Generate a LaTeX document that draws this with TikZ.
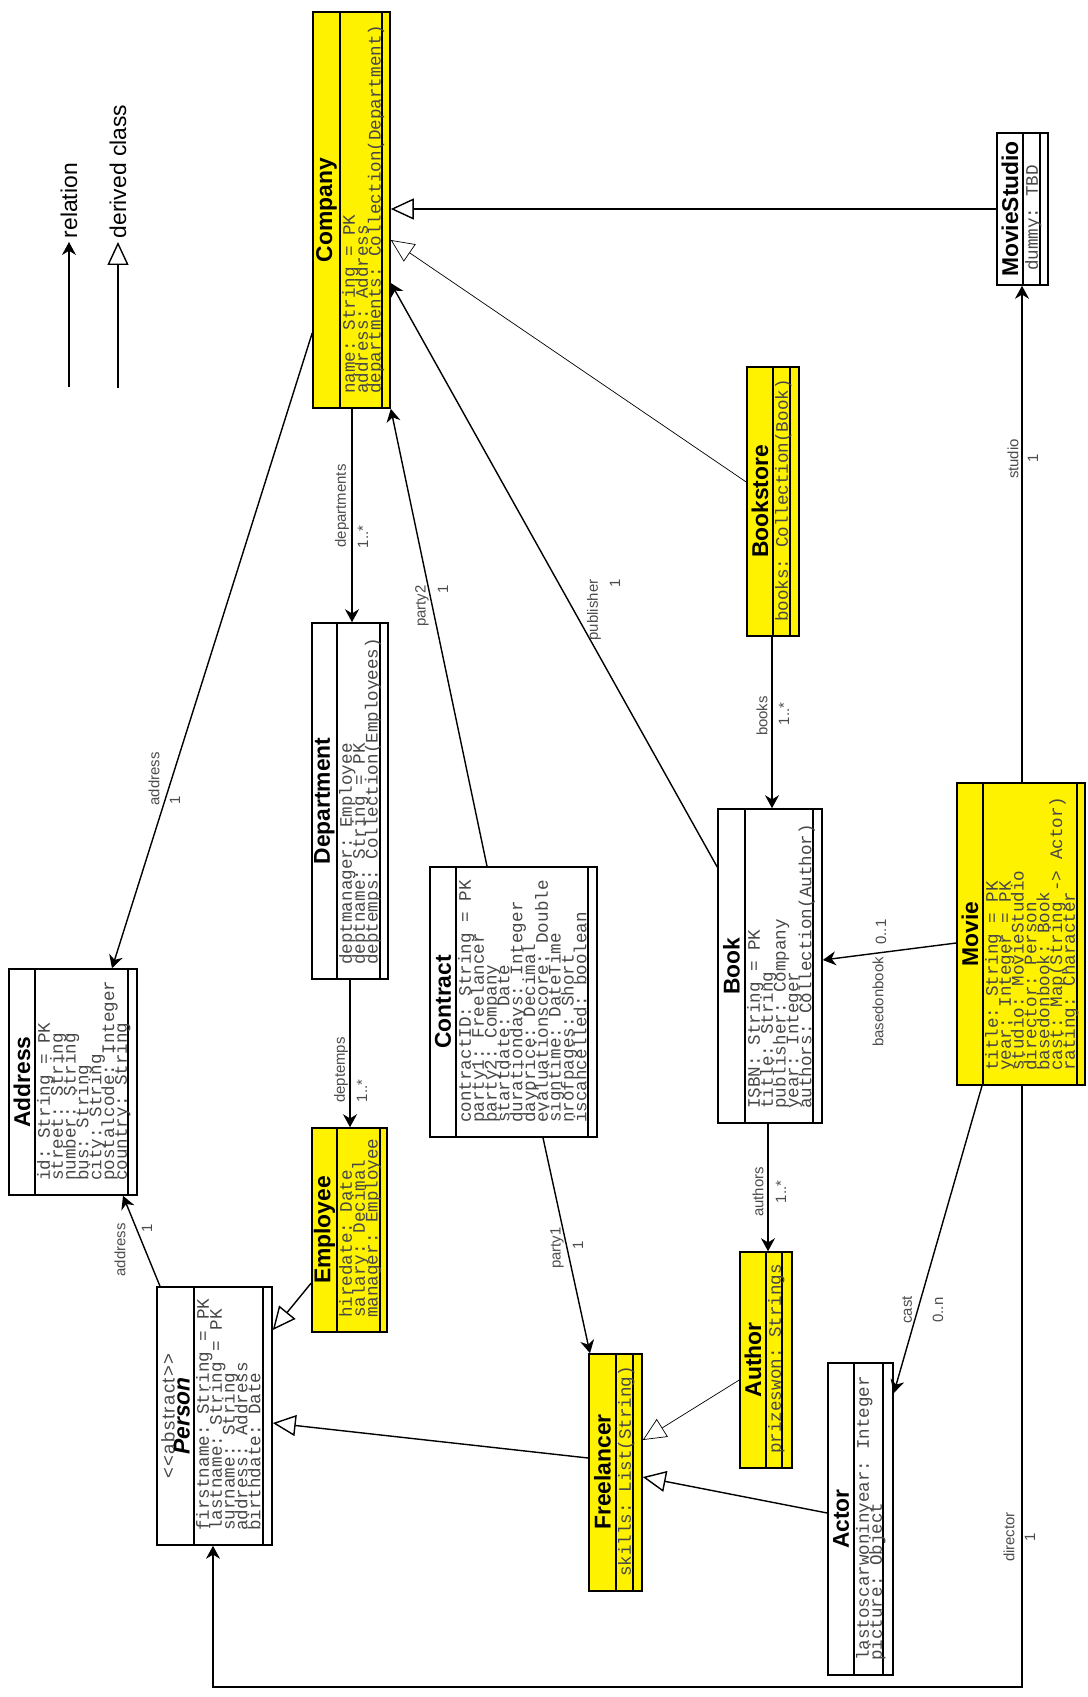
\documentclass[tikz,border=0pt]{standalone}
\usepackage{fontspec}
\setmainfont{Liberation Sans}
\setsansfont{Liberation Sans}
\setmonofont{Liberation Mono}
\usetikzlibrary{arrows.meta, fit}

\begin{document}
\begin{tikzpicture}[
    x=0.02cm, y=-0.02cm,
    cls/.style={draw, line width=0.9pt, inner sep=0pt},
    hot/.style={cls, fill=yellow},
    part/.style={line width=0.9pt},
    cname/.style={rotate=90, inner sep=0pt, font=\sffamily\bfseries\fontsize{13}{15}\selectfont},
    cattr/.style={rotate=90, anchor=north west, align=left, inner sep=0.5pt, text=black!72,
        font={\ttfamily\fontsize{10}{7.3}\selectfont\lineskiplimit=-20pt}},
    lbl/.style={rotate=90, inner sep=0pt, text=black!70, font=\sffamily\fontsize{8.5}{10}\selectfont},
    legend/.style={rotate=90, anchor=west, inner sep=2pt, font=\sffamily\fontsize{13}{15}\selectfont},
    rel/.style={-{Stealth[length=2.6mm, width=2.8mm]}, line width=0.8pt},
    gen/.style={-{Triangle[open, fill=white, length=4.6mm, width=4.2mm]}, line width=0.8pt}
]
\useasboundingbox (0,0) rectangle (1088,1697);

% legend
\node[legend] (relkey) at (69,242) {relation};
\coordinate (relkeyfoot) at (69,387);
\draw[rel] (relkeyfoot) -- (relkey);
\node[legend] (genkey) at (118,242) {derived class};
\coordinate (genkeyfoot) at (118,388);
\draw[gen] (genkeyfoot) -- (genkey);

% classes
\node[hot, fit={(313,12) (390,408)}] (company) {};
\draw[part] (340,12) -- (340,408) (382,12) -- (382,408);
\node[cname] (companyname) at (326.5,210) {Company};
\node[cattr] (companyattr) at (341,395) {name: String = PK\\address: Address\\departments: Collection(Department)};

\node[cls, fit={(312,623) (388,979)}] (department) {};
\draw[part] (337,623) -- (337,979) (380,623) -- (380,979);
\node[cname] (departmentname) at (324.5,801) {Department};
\node[cattr] (departmentattr) at (338,966) {deptmanager: Employee\\deptname: String = PK\\deptemps: Collection(Employees)};

\node[cls, fit={(9,969) (137,1195)}] (address) {};
\draw[part] (35,969) -- (35,1195) (128,969) -- (128,1195);
\node[cname] (addressname) at (22,1082) {Address};
\node[cattr] (addressattr) at (36,1182) {id: String = PK\\street: String\\number: String\\bus: String\\city: String\\postalcode: Integer\\country: String};

\node[cls, fit={(157,1287) (272,1545)}] (person) {};
\draw[part] (194,1287) -- (194,1545) (263,1287) -- (263,1545);
\node[cname, align=center, font={\sffamily\bfseries\fontsize{13}{8.5}\selectfont\lineskiplimit=-20pt}] (personname) at (175.5,1416)
    {{\mdseries\color{black!72}\fontsize{10.5}{8.5}\selectfont\addfontfeature{LetterSpace=8}<{}<abstract>{}>}\\{\itshape Person}};
\node[cattr] (personattr) at (195,1532) {firstname: String = PK\\lastname: String = PK\\surname: String\\address: Address\\birthdate: Date};

\node[hot, fit={(312,1128) (387,1332)}] (employee) {};
\draw[part] (337,1128) -- (337,1332) (380,1128) -- (380,1332);
\node[cname] (employeename) at (324.5,1230) {Employee};
\node[cattr] (employeeattr) at (338,1319) {hiredate: Date\\salary: Decimal\\manager: Employee};

\node[cls, fit={(430,867) (597,1137)}] (contract) {};
\draw[part] (456,867) -- (456,1137) (588,867) -- (588,1137);
\node[cname] (contractname) at (443,1002) {Contract};
\node[cattr] (contractattr) at (457,1124) {contractID: String = PK\\party1: Freelancer\\party2: Company\\startdate: Date\\durationdays: Integer\\dayprice: Decimal\\evaluationscore: Double\\signtime: DateTime\\nrofpages: Short\\iscancelled: boolean};

\node[cls, fit={(718,809) (822,1123)}] (book) {};
\draw[part] (745,809) -- (745,1123) (813,809) -- (813,1123);
\node[cname] (bookname) at (731.5,966) {Book};
\node[cattr] (bookattr) at (746,1110) {ISBN: String = PK\\title: String\\publisher: Company\\year: Integer\\authors: Collection(Author)};

\node[hot, fit={(747,367) (799,636)}] (bookstore) {};
\draw[part] (773,367) -- (773,636) (790,367) -- (790,636);
\node[cname] (bookstorename) at (760,501.5) {Bookstore};
\node[cattr] (bookstoreattr) at (774,623) {books: Collection(Book)};

\node[cls, fit={(997,133) (1048,285)}] (moviestudio) {};
\draw[part] (1023,133) -- (1023,285) (1040,133) -- (1040,285);
\node[cname] (moviestudioname) at (1010,209) {MovieStudio};
\node[cattr] (moviestudioattr) at (1024,272) {dummy: TBD};

\node[hot, fit={(957,783) (1085,1085)}] (movie) {};
\draw[part] (983,783) -- (983,1085) (1077,783) -- (1077,1085);
\node[cname] (moviename) at (970,934) {Movie};
\node[cattr] (movieattr) at (984,1072) {title: String = PK\\year: Integer = PK\\studio: MovieStudio\\director: Person\\basedonbook: Book\\cast: Map(String -> Actor)\\rating: Character};

\node[cls, fit={(828,1363) (893,1675)}] (actor) {};
\draw[part] (854,1363) -- (854,1675) (883,1363) -- (883,1675);
\node[cname] (actorname) at (841,1519) {Actor};
\node[cattr] (actorattr) at (855,1662) {lastoscarwoninyear: Integer\\picture: Object};

\node[hot, fit={(740,1252) (792,1468)}] (author) {};
\draw[part] (766,1252) -- (766,1468) (782,1252) -- (782,1468);
\node[cname] (authorname) at (753,1360) {Author};
\node[cattr] (authorattr) at (767,1455) {prizeswon: Strings};

\node[hot, fit={(589,1354) (642,1591)}] (freelancer) {};
\draw[part] (616,1354) -- (616,1591) (633,1354) -- (633,1591);
\node[cname] (freelancername) at (602.5,1472) {Freelancer};
\node[cattr] (freelancerattr) at (617,1578) {skills: List(String)};

% relations
\draw[rel] (company.west |- 0,333) -- (112,0 |- address.north);
\draw[rel] (160,0 |- person.north) -- (123,0 |- address.south);
\draw[rel] (company.south -| 352,0) -- (department.north -| 352,0);
\draw[rel] (department.south -| 350,0) -- (employee.north -| 350,0);
\draw[rel] (487,0 |- contract.north) -- (company.south east);
\draw[rel] (543,0 |- contract.south) -- (590,0 |- freelancer.north);
\draw[rel] (book.west |- 0,867) -- (company.east |- 0,283);
\draw[rel] (bookstore.south -| 772,0) -- (book.north -| 772,0);
\draw[rel] (movie.north -| 1022,0) -- (moviestudio.south -| 1022,0);
\draw[rel] (movie.west |- 0,943) -- (book.east |- 0,960);
\draw[rel] (982,0 |- movie.south) -- (actor.east |- 0,1393);
\draw[rel] (book.south -| 768,0) -- (author.north -| 768,0);
\coordinate (dircorner) at (213,1687);
\draw[rel] (1022,0 |- movie.south) |- (dircorner) -- (dircorner |- person.south);

% derived classes
\draw[gen] (employee.west |- 0,1283) -- (person.east |- 0,1330);
\draw[gen] (freelancer.west |- 0,1458) -- (person.east |- 0,1423);
\draw[gen, thin] (bookstore.west |- 0,482) -- (company.east |- 0,240);
\draw[gen] (moviestudio.west |- 0,209) -- (company.east |- 0,209);
\draw[gen] (actor.west |- 0,1513) -- (freelancer.east |- 0,1477);
\draw[gen, thin] (author.west |- 0,1380) -- (freelancer.east |- 0,1440);

% labels
\node[lbl] (addrlbla) at (154,779) {address};
\node[lbl] (addrmula) at (175,800) {1};
\node[lbl] (addrlblb) at (120,1250) {address};
\node[lbl] (addrmulb) at (147,1228) {1};
\node[lbl] (deptlbl) at (342,506) {departments};
\node[lbl] (deptmul) at (363,537) {1..*};
\node[lbl] (empslbl) at (341,1070) {deptemps};
\node[lbl] (empsmul) at (362,1091) {1..*};
\node[lbl] (party2lbl) at (422,606) {party2};
\node[lbl] (party2mul) at (443,589) {1};
\node[lbl] (publbl) at (594,610) {publisher};
\node[lbl] (pubmul) at (615,583) {1};
\node[lbl] (bookslbl) at (762,716) {books};
\node[lbl] (booksmul) at (784,714) {1..*};
\node[lbl] (studiolbl) at (1013,459) {studio};
\node[lbl] (studiomul) at (1033,458) {1};
\node[lbl] (basedlbl) at (878,1002) {basedonbook};
\node[lbl] (basedmul) at (881,932) {0..1};
\node[lbl] (authorslbl) at (758,1192) {authors};
\node[lbl] (authorsmul) at (781,1192) {1..*};
\node[lbl] (party1lbl) at (557,1248) {party1};
\node[lbl] (party1mul) at (578,1245) {1};
\node[lbl] (castlbl) at (907,1310) {cast};
\node[lbl] (castmul) at (938,1310) {0..n};
\node[lbl] (dirlbl) at (1009,1537) {director};
\node[lbl] (dirmul) at (1030,1537) {1};
\end{tikzpicture}
\end{document}
